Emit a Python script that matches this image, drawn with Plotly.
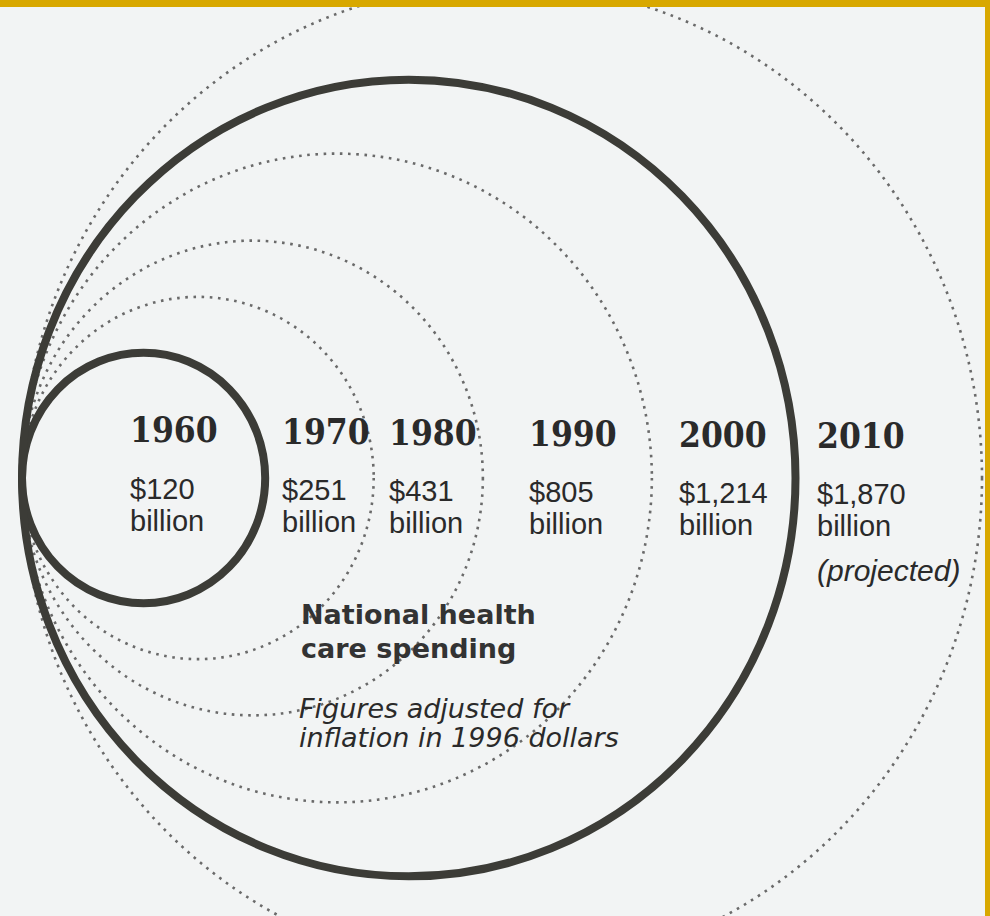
import math
import plotly.graph_objects as go

# ---- data ----
YEARS = ["1960", "1970", "1980", "1990", "2000", "2010"]
VALUES = [120, 251, 431, 805, 1214, 1870]          # $ billion, 1996 dollars
NOTES = ["", "", "", "", "", "(projected)"]
HIGHLIGHT = ["1960", "2000"]                          # solid rings
TITLE_LINES = ["National health", "care spending"]
SUBTITLE_LINES = ["Figures adjusted for", "inflation in 1996 dollars"]

# ---- layout constants (pixels) ----
W, H = 990, 916
KX = 11.1            # px per sqrt-unit horizontally
KY = KX * 1.03       # scan is slightly stretched vertically
TX, TY = 22, 478     # tangent point (px)
LABEL_X = [128, 280, 387, 527, 677, 815]

BG = "#f2f4f4"
GOLD = "#d8a800"
INK = "#2a2a2a"

fig = go.Figure()
# invisible trace to establish axes
fig.add_trace(go.Scatter(x=[0], y=[0], mode="markers",
                         marker=dict(size=1, color="rgba(0,0,0,0)"),
                         hoverinfo="skip", showlegend=False))

shapes = []
# dotted rings first, solid on top
order = sorted(range(len(YEARS)), key=lambda i: YEARS[i] in HIGHLIGHT)
for i in order:
    r = math.sqrt(VALUES[i])
    solid = YEARS[i] in HIGHLIGHT
    shapes.append(dict(
        type="circle", xref="x", yref="y",
        x0=0, x1=2 * r, y0=-r, y1=r,
        line=dict(color="#3c3c37" if solid else "#6a6a6a",
                  width=8 if solid else 2.6,
                  dash="solid" if solid else "2.6px,5.6px"),
        fillcolor="rgba(0,0,0,0)", layer="above"))

# gold frame (top and right)
shapes.append(dict(type="rect", xref="paper", yref="paper",
                   x0=0, x1=1, y0=1 - 7 / H, y1=1,
                   line=dict(width=0), fillcolor=GOLD, layer="above"))
shapes.append(dict(type="rect", xref="paper", yref="paper",
                   x0=1 - 5 / W, x1=1, y0=0, y1=1,
                   line=dict(width=0), fillcolor=GOLD, layer="above"))

def px(xp):
    return xp / W

def py(yp):
    return 1 - yp / H

ann = []
YEAR_FONT = "DejaVu Serif Condensed, DejaVu Sans Condensed, serif"
BODY_FONT = "Liberation Sans, Arial, Helvetica, sans-serif"
WIDE_FONT = "DejaVu Sans, Verdana, sans-serif"
for i, yr in enumerate(YEARS):
    x0 = LABEL_X[i]
    tilt = 0.008 * (x0 - 132)
    ann.append(dict(text=f"<b>{yr}</b>", x=px(x0), y=py(430 + tilt),
                    xref="paper", yref="paper", xanchor="left", yanchor="middle",
                    showarrow=False, font=dict(family=YEAR_FONT, size=35, color=INK)))
    ann.append(dict(text=f"${VALUES[i]:,}", x=px(x0), y=py(489 + tilt),
                    xref="paper", yref="paper", xanchor="left", yanchor="middle",
                    showarrow=False, font=dict(family=BODY_FONT, size=29, color=INK)))
    ann.append(dict(text="billion", x=px(x0), y=py(521 + tilt),
                    xref="paper", yref="paper", xanchor="left", yanchor="middle",
                    showarrow=False, font=dict(family=BODY_FONT, size=29, color=INK)))
    if NOTES[i]:
        ann.append(dict(text=f"<i>{NOTES[i]}</i>", x=px(x0), y=py(565 + tilt),
                        xref="paper", yref="paper", xanchor="left", yanchor="middle",
                        showarrow=False, font=dict(family=BODY_FONT, size=30, color=INK)))

for j, line in enumerate(TITLE_LINES):
    ann.append(dict(text=f"<b>{line}</b>", x=px(299), y=py(614 + 34 * j),
                    xref="paper", yref="paper", xanchor="left", yanchor="middle",
                    showarrow=False, font=dict(family=WIDE_FONT, size=27, color="#333333")))
for j, line in enumerate(SUBTITLE_LINES):
    ann.append(dict(text=f"<i>{line}</i>", x=px(297), y=py(708 + 29 * j),
                    xref="paper", yref="paper", xanchor="left", yanchor="middle",
                    showarrow=False, font=dict(family=WIDE_FONT, size=27, color=INK)))

fig.update_layout(
    width=W, height=H,
    margin=dict(l=0, r=0, t=0, b=0),
    paper_bgcolor=BG, plot_bgcolor=BG,
    xaxis=dict(range=[-TX / KX, (W - TX) / KX], visible=False, fixedrange=True),
    yaxis=dict(range=[-(H - TY) / KY, TY / KY], visible=False, fixedrange=True),
    shapes=shapes, annotations=ann, showlegend=False,
)

fig.write_html("out.html", config={"displayModeBar": False},
               post_script="document.body.style.margin='0';document.body.style.overflow='hidden';")
